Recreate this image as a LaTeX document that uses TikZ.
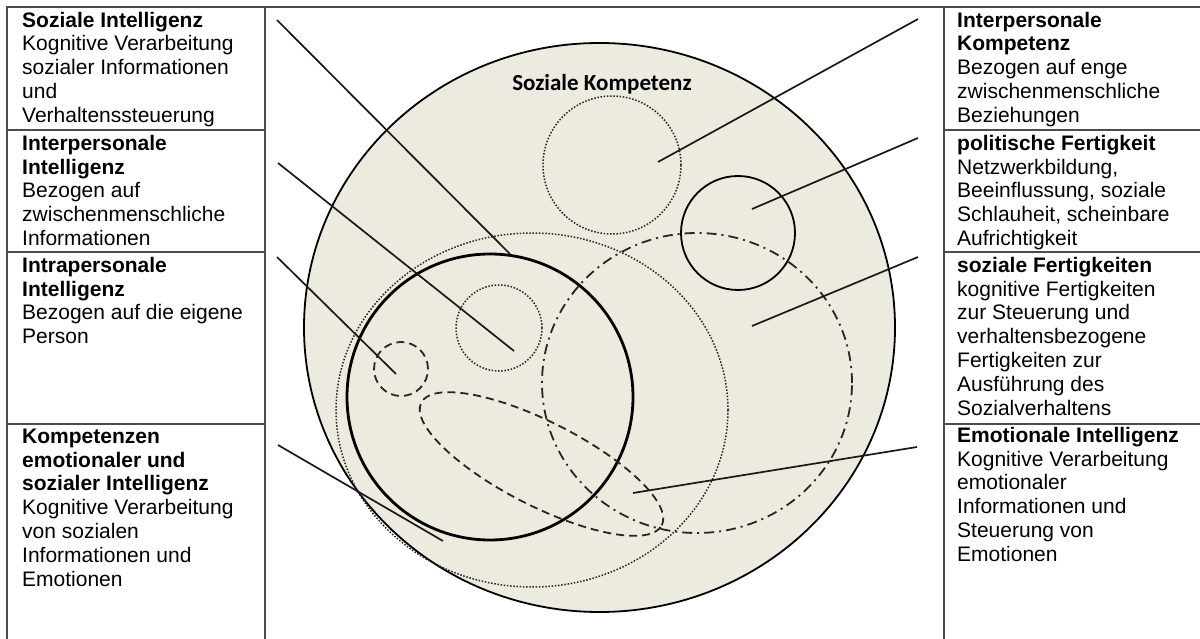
\documentclass[tikz,border=0pt]{standalone}
\usepackage{fontspec}
\setmainfont{Liberation Sans}
\newfontfamily\carlito{Carlito}
\definecolor{bg}{RGB}{237,234,224}
\begin{document}
\begin{tikzpicture}[x=1pt,y=-1pt,
  tline/.style={draw=black!70, line width=1.1pt},
  conn/.style={draw=black!90, line width=1.7pt},
  dotline/.style={draw=black!85, line width=1.5pt, dash pattern=on 1.5pt off 1.7pt},
  dashline/.style={draw=black!85, line width=1.8pt, dash pattern=on 8pt off 5pt},
  dashdotline/.style={draw=black!85, line width=1.8pt, dash pattern=on 10pt off 5pt on 2pt off 5pt},
  txt/.style={anchor=north west, align=left, inner sep=0pt, font=\fontsize{21}{23.8}\selectfont}
]
\useasboundingbox (0,0) rectangle (1200,639);
\fill[white] (0,0) rectangle (1200,639);

% table
\draw[tline] (7,639) -- (7,7) -- (1200,7);
\draw[tline] (265,7) -- (265,639);
\draw[tline] (944,7) -- (944,639);
\foreach \yy in {130,252,424} {
  \draw[tline] (7,\yy) -- (265,\yy);
  \draw[tline] (944,\yy) -- (1200,\yy);
}

% big circle
\draw[fill=bg, line width=1.8pt] (599.5,327.5) ellipse [x radius=295.5pt, y radius=284.5pt];
\node[anchor=base, inner sep=0pt, font=\carlito\bfseries\fontsize{23}{26}\selectfont] (sk) at (602,91) {Soziale Kompetenz};

% inner shapes
\draw[dotline] (532,410) ellipse [x radius=196pt, y radius=177pt];
\draw[dashdotline] (697,383) ellipse [x radius=155pt, y radius=150pt];
\draw[black, line width=2.8pt] (490,397) circle [radius=143pt];
\draw[dotline] (499,328) circle [radius=43pt];
\draw[dashline] (401,369) circle [radius=27pt];
\draw[dashline, rotate around={-27:(541.5,464)}] (541.5,464) ellipse [x radius=135pt, y radius=42pt];
\draw[dotline] (612,165) circle [radius=69pt];
\draw[black, line width=1.8pt] (738,233) circle [radius=57pt];

% left texts
\node[txt] (t1) at (22,10.2) {\strut\textbf{Soziale Intelligenz}\\Kognitive Verarbeitung\\sozialer Informationen\\und\\Verhaltenssteuerung};
\node[txt] (t2) at (22,133.5) {\strut\textbf{Interpersonale}\\\textbf{Intelligenz}\\Bezogen auf\\zwischenmenschliche\\Informationen};
\node[txt] (t3) at (22,255.5) {\strut\textbf{Intrapersonale}\\\textbf{Intelligenz}\\Bezogen auf die eigene\\Person};
\node[txt] (t4) at (22,426.5) {\strut\textbf{Kompetenzen}\\\textbf{emotionaler und}\\\textbf{sozialer Intelligenz}\\Kognitive Verarbeitung\\von sozialen\\Informationen und\\Emotionen};

% right texts
\node[txt] (u1) at (957,10.2) {\strut\textbf{Interpersonale}\\\textbf{Kompetenz}\\Bezogen auf enge\\zwischenmenschliche\\Beziehungen};
\node[txt] (u2) at (957,133.5) {\strut\textbf{politische Fertigkeit}\\Netzwerkbildung,\\Beeinflussung, soziale\\Schlauheit, scheinbare\\Aufrichtigkeit};
\node[txt] (u3) at (957,255.5) {\strut\textbf{soziale Fertigkeiten}\\kognitive Fertigkeiten\\zur Steuerung und\\verhaltensbezogene\\Fertigkeiten zur\\Ausführung des\\Sozialverhaltens};
\node[txt] (u4) at (957,425.5) {\strut\textbf{Emotionale Intelligenz}\\Kognitive Verarbeitung\\emotionaler\\Informationen und\\Steuerung von\\Emotionen};

% connector end points
\coordinate (l1s) at (277,20);  \coordinate (l1e) at (510,254);
\coordinate (l2s) at (278,163); \coordinate (l2e) at (514,351);
\coordinate (l3s) at (277,257); \coordinate (l3e) at (396,374);
\coordinate (l4s) at (278,445); \coordinate (l4e) at (443,541);
\coordinate (r1s) at (918,19);  \coordinate (r1e) at (658,162);
\coordinate (r2s) at (918,138); \coordinate (r2e) at (752,209);
\coordinate (r3s) at (918,257); \coordinate (r3e) at (752,326);
\coordinate (r4s) at (917,447); \coordinate (r4e) at (633,493);

\foreach \c in {l1,l2,l3,l4,r1,r2,r3,r4} {
  \draw[conn] (\c s) -- (\c e);
}
\end{tikzpicture}
\end{document}
